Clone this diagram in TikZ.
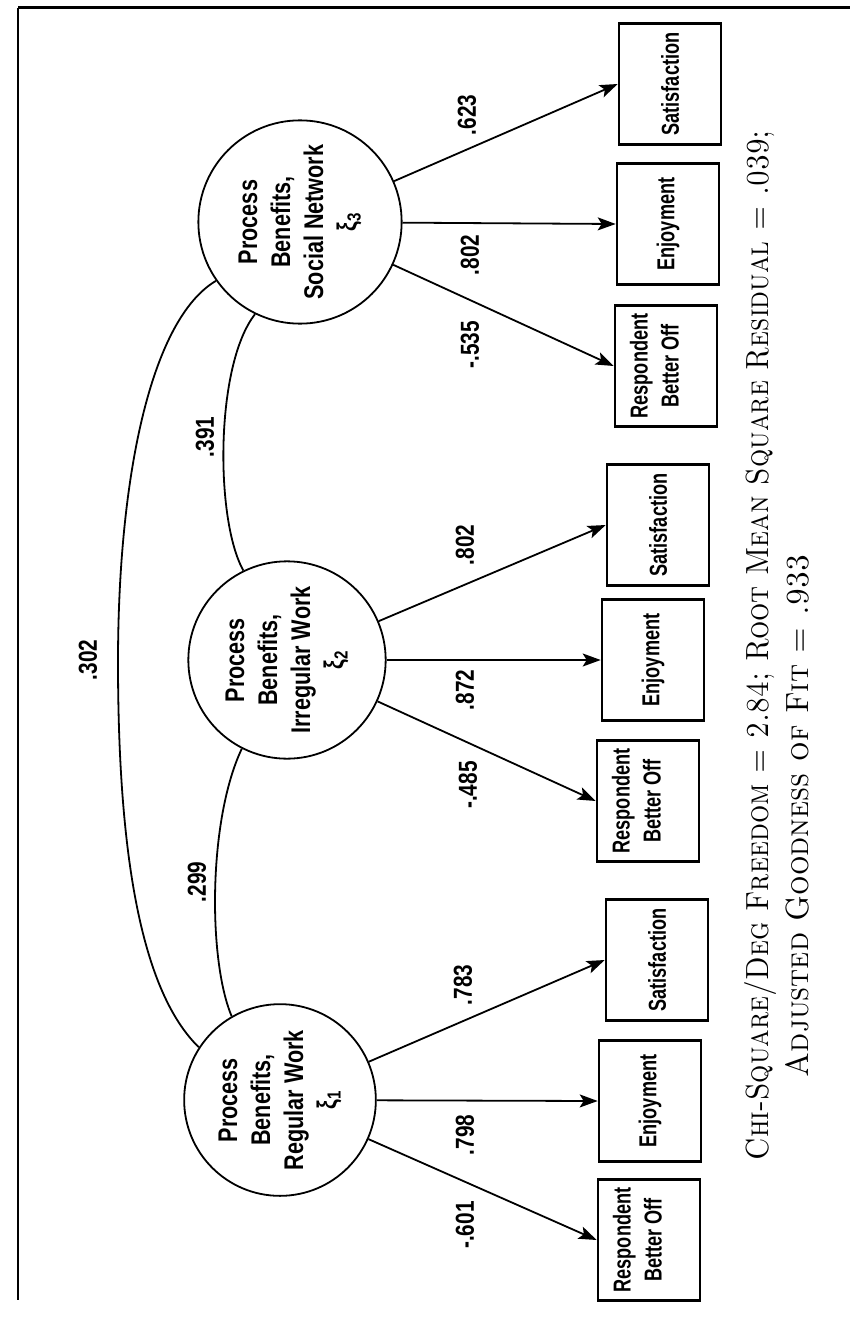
\documentclass[tikz,border=0pt]{standalone}
\usepackage{fontspec}
\usepackage{graphicx}
\usetikzlibrary{arrows.meta}
\newfontfamily\dfont{Liberation Sans}[FakeStretch=0.8]
\newfontfamily\bfont{Liberation Sans}[FakeStretch=0.74]
\begin{document}
\begin{tikzpicture}[x=1pt,y=-1pt,
  latent/.style={circle,draw,line width=1.8pt,minimum size=166pt,inner sep=0pt,
    font=\dfont\bfseries\fontsize{27}{33}\selectfont},
  obs/.style={rectangle,draw,line width=2.6pt,minimum width=102pt,minimum height=121pt,
    inner sep=0pt,font=\bfont\bfseries\fontsize{24.5}{31}\selectfont},
  load/.style={line width=1.8pt,-{Stealth[length=18pt,width=13pt,inset=4pt]}},
  cov/.style={line width=1.8pt},
  coef/.style={font=\dfont\bfseries\fontsize{26}{30}\selectfont,rotate=90,inner sep=0pt},
  capt/.style={inner sep=0pt}]
\useasboundingbox (0,0) rectangle (850,1319);
\fill[white] (0,0) rectangle (850,1319);
\draw[line width=3pt] (18,8) -- (850,8);
\draw[line width=2pt] (18,8) -- (18,1300);

% latent variables
\node[latent] (E1) at (280,1100) {\rotatebox{90}{\begin{tabular}{@{}c@{}}Process\\Benefits,\\Regular Work\\ξ\textsubscript{1}\end{tabular}}};
\node[latent] (E2) at (287,660) {\rotatebox{90}{\begin{tabular}{@{}c@{}}Process\\Benefits,\\Irregular Work\\ξ\textsubscript{2}\end{tabular}}};
\node[latent] (E3) at (300,222) {\rotatebox{90}{\begin{tabular}{@{}c@{}}Process\\Benefits,\\Social Network\\ξ\textsubscript{3}\end{tabular}}};

% observed variables
\node[obs] (S3) at (670,84) {\rotatebox{90}{Satisfaction}};
\node[obs] (J3) at (668,224) {\rotatebox{90}{Enjoyment}};
\node[obs] (R3) at (666,366) {\rotatebox{90}{\begin{tabular}{@{}c@{}}Respondent\\Better Off\\[18pt]\end{tabular}}};
\node[obs] (S2) at (658,525) {\rotatebox{90}{Satisfaction}};
\node[obs] (J2) at (653,660) {\rotatebox{90}{Enjoyment}};
\node[obs] (R2) at (648,801) {\rotatebox{90}{\begin{tabular}{@{}c@{}}Respondent\\Better Off\\[18pt]\end{tabular}}};
\node[obs] (S1) at (657,960) {\rotatebox{90}{Satisfaction}};
\node[obs] (J1) at (650,1101) {\rotatebox{90}{Enjoyment}};
\node[obs] (R1) at (649,1240) {\rotatebox{90}{\begin{tabular}{@{}c@{}}Respondent\\Better Off\\[18pt]\end{tabular}}};

% loadings
\draw[load] (E3) -- (S3.west);
\draw[load] (E3) -- (J3.west);
\draw[load] (E3) -- (R3.west);
\draw[load] (E2) -- (S2.west);
\draw[load] (E2) -- (J2.west);
\draw[load] (E2) -- (R2.west);
\draw[load] (E1) -- (S1.west);
\draw[load] (E1) -- (J1.west);
\draw[load] (E1) -- (R1.west);

% covariances
\coordinate (m13) at (118,662);
\draw[cov] (E1.147) .. controls (140,990) and (118,850) .. (m13)
  .. controls (118,480) and (150,320) .. (E3.215);
\draw[cov] (E1.120) .. controls (208,960) and (208,820) .. (E2.243);
\draw[cov] (E2.116) .. controls (215,520) and (215,365) .. (E3.244);

% coefficients
\node[coef] (c13) at (88,660) {.302};
\node[coef] (c23) at (205,437) {.391};
\node[coef] (c12) at (197,882) {.299};
\node[coef] (l33) at (467,115) {.623};
\node[coef] (l32) at (470,255) {.802};
\node[coef] (l31) at (470,345) {-.535};
\node[coef] (l23) at (465,545) {.802};
\node[coef] (l22) at (465,690) {.872};
\node[coef] (l21) at (468,785) {-.485};
\node[coef] (l13) at (463,985) {.783};
\node[coef] (l12) at (465,1135) {.798};
\node[coef] (l11) at (465,1225) {-.601};

% caption
\node[capt] (cap1) at (760,645) {\rotatebox{90}{\resizebox{1030pt}{24pt}{\textsc{Chi-Square/Deg Freedom = 2.84; Root Mean Square Residual = .039;}}}};
\node[capt] (cap2) at (797,816) {\rotatebox{90}{\resizebox{522pt}{23pt}{\textsc{Adjusted Goodness of Fit = .933}}}};
\end{tikzpicture}
\end{document}
